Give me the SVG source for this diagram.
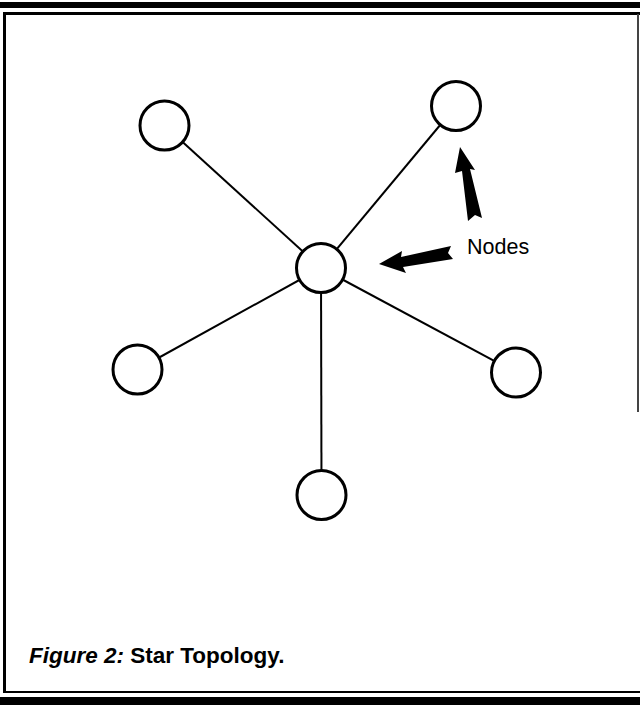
<svg xmlns="http://www.w3.org/2000/svg" width="640" height="705" viewBox="0 0 640 705">
<style>
.node{fill:#fff;stroke:#000;stroke-width:3}
.link{stroke:#000;stroke-width:2;fill:none}
.frame{fill:#000}
.lbl{font-family:"Liberation Sans",Arial,sans-serif;fill:#000}
</style>
<rect width="640" height="705" fill="#fff"/>
<g id="frame">
<rect class="frame" x="0" y="2" width="640" height="6"/>
<rect class="frame" x="6" y="12" width="634" height="3"/>
<rect class="frame" x="3" y="12" width="3" height="681"/>
<rect x="637" y="14" width="2" height="398" fill="#444"/>
<rect class="frame" x="3" y="691" width="637" height="2"/>
<rect class="frame" x="0" y="697" width="640" height="8"/>
</g>
<g id="connectors">
<line class="link" x1="321" y1="268" x2="164.5" y2="125.5"/>
<line class="link" x1="321" y1="268" x2="456" y2="106"/>
<line class="link" x1="321" y1="268" x2="137.5" y2="369.5"/>
<line class="link" x1="321" y1="268" x2="516" y2="372.5"/>
<line class="link" x1="321" y1="268" x2="321.5" y2="495"/>
</g>
<g id="node-top-left"><circle class="node" cx="164.5" cy="125.5" r="24.5"/></g>
<g id="node-top-right"><circle class="node" cx="456" cy="106" r="24.5"/></g>
<g id="node-center"><circle class="node" cx="321" cy="268" r="24.5"/></g>
<g id="node-left"><circle class="node" cx="137.5" cy="369.5" r="24.5"/></g>
<g id="node-right"><circle class="node" cx="516" cy="372.5" r="24.5"/></g>
<g id="node-bottom"><circle class="node" cx="321.5" cy="495" r="24.5"/></g>
<g id="label-nodes">
<path d="M460,147 L475,170 L470,169 L482,218 L475,215 L468,221 L462,171 L455,173 Z" fill="#000"/>
<path d="M379,264 L402,251 L401,257 L451,246 L448,253 L453,259 L403,267 L406,273 Z" fill="#000"/>
<text class="lbl" x="467" y="254" font-size="21.5">Nodes</text>
</g>
<g id="caption">
<text class="lbl" x="29" y="663" font-size="22.5" font-weight="bold"><tspan font-style="italic">Figure 2:</tspan> Star Topology.</text>
</g>
</svg>
